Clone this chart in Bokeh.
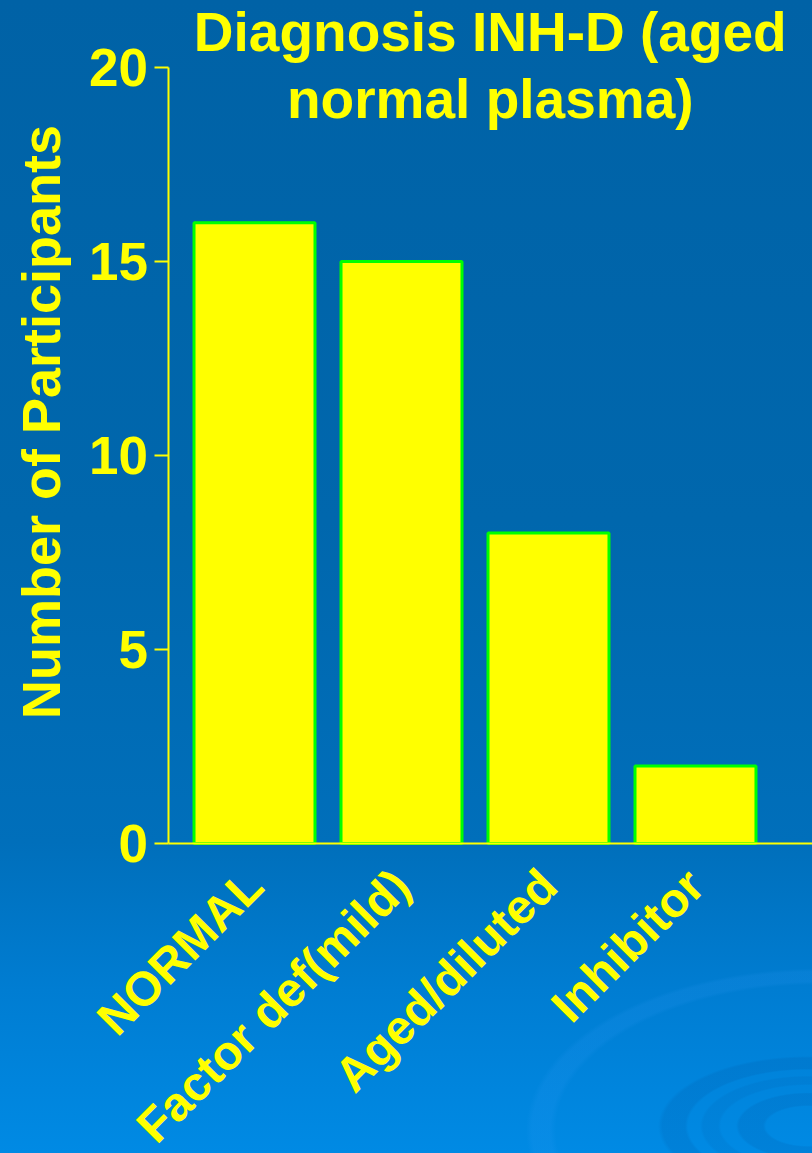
from math import pi

from bokeh.embed import file_html
from bokeh.models import ColumnDataSource, FixedTicker, Label, Range1d
from bokeh.plotting import figure
from bokeh.resources import INLINE

# --- data -------------------------------------------------------------
categories = ["NORMAL", "Factor def(mild)", "Aged/diluted", "Inhibitor"]
participants = [16, 15, 8, 2]
y_ticks = [0, 5, 10, 15, 20]

title_text = "Diagnosis INH-D (aged\nnormal plasma)"
y_label = "Number of Participants"

FONT = "Liberation Sans"
YELLOW = "#ffff00"
GREEN = "#00ff00"

positions = list(range(len(categories)))
source = ColumnDataSource(dict(x=positions, count=participants))

# the drawing area spans the whole canvas; axes sit at fixed positions
X_AXIS_AT = -0.588          # where the value axis stands
X_RIGHT = 3.796
p = figure(
    width=812, height=1153,
    x_range=Range1d(-1.728, X_RIGHT),
    y_range=Range1d(-7.99, 21.727),
    output_backend="svg",
    toolbar_location=None,
    min_border=0,
)

# transparent canvas; the slide-style backdrop (blue gradient with
# faint ripples in the lower right) is painted on the host element
p.background_fill_alpha = 0
p.border_fill_alpha = 0
p.outline_line_color = None
p.grid.visible = False
ripple = ("radial-gradient(ellipse 150px 70px at 808px 1126px, "
          "rgba(0,0,0,0) 0%, rgba(0,0,0,0) 28%, "
          "rgba(0,50,120,0.10) 30%, rgba(0,50,120,0.10) 46%, "
          "rgba(0,0,0,0) 48%, rgba(0,0,0,0) 58%, "
          "rgba(0,50,120,0.07) 60%, rgba(0,50,120,0.07) 70%, "
          "rgba(0,0,0,0) 72%, rgba(0,0,0,0) 80%, "
          "rgba(0,50,120,0.10) 82%, rgba(0,50,120,0.10) 97%, "
          "rgba(0,0,0,0) 100%)")
outer = ("radial-gradient(ellipse 300px 165px at 820px 1130px, "
         "rgba(0,0,0,0) 0%, rgba(0,0,0,0) 88%, "
         "rgba(60,160,255,0.12) 90%, rgba(60,160,255,0.12) 96%, "
         "rgba(0,0,0,0) 98%)")
base = ("linear-gradient(to bottom, #0062a6 0px, #0067ad 520px, "
        "#006fbb 843px, #007dd2 990px, #008ae4 1153px)")
p.styles = {"background": f"{ripple}, {outer}, {base}"}

p.vbar(x="x", top="count", width=0.823, source=source,
       fill_color=YELLOW, line_color=GREEN, line_width=3)

# value axis
ya = p.yaxis[0]
ya.fixed_location = X_AXIS_AT
ya.ticker = FixedTicker(ticks=y_ticks)
ya.bounds = (0, 20)
ya.axis_line_color = YELLOW
ya.axis_line_width = 2
ya.major_tick_line_color = YELLOW
ya.major_tick_line_width = 2
ya.major_tick_out = 14
ya.major_tick_in = 0
ya.minor_tick_line_color = None
ya.major_label_text_color = YELLOW
ya.major_label_text_font = FONT
ya.major_label_text_font_style = "bold"
ya.major_label_text_font_size = "53px"
ya.major_label_standoff = 6

# axis title, rotated, centred on the upper (plot) part of the canvas
p.add_layout(Label(
    x=-1.728, y=21.727 / 2, text=y_label, angle=pi / 2,
    x_offset=40, text_align="center", text_baseline="middle",
    text_color=YELLOW, text_font=FONT, text_font_style="bold",
    text_font_size="54px",
))

# category axis: only the baseline; names are slanted labels below it
xa = p.xaxis[0]
xa.fixed_location = 0
xa.bounds = (X_AXIS_AT, X_RIGHT)
xa.ticker = FixedTicker(ticks=[])
xa.axis_line_color = YELLOW
xa.axis_line_width = 2
xa.major_tick_line_color = None
xa.minor_tick_line_color = None
xa.major_tick_out = 0
xa.major_tick_in = 0

for xpos, name in zip(positions, categories):
    p.add_layout(Label(
        x=xpos, y=0, text=name,
        angle=pi / 4, text_align="right", text_baseline="middle",
        y_offset=-34,
        text_color=YELLOW, text_font=FONT, text_font_style="bold",
        text_font_size="48px",
    ))

# two-line heading centred over the plot area
p.add_layout(Label(
    x=(X_AXIS_AT + X_RIGHT) / 2, y=21.72,
    text=title_text, text_align="center", text_baseline="top",
    text_color=YELLOW, text_font=FONT, text_font_style="bold",
    text_font_size="55px", text_line_height=1.08,
))

open("out.html", "w").write(file_html(p, INLINE))
